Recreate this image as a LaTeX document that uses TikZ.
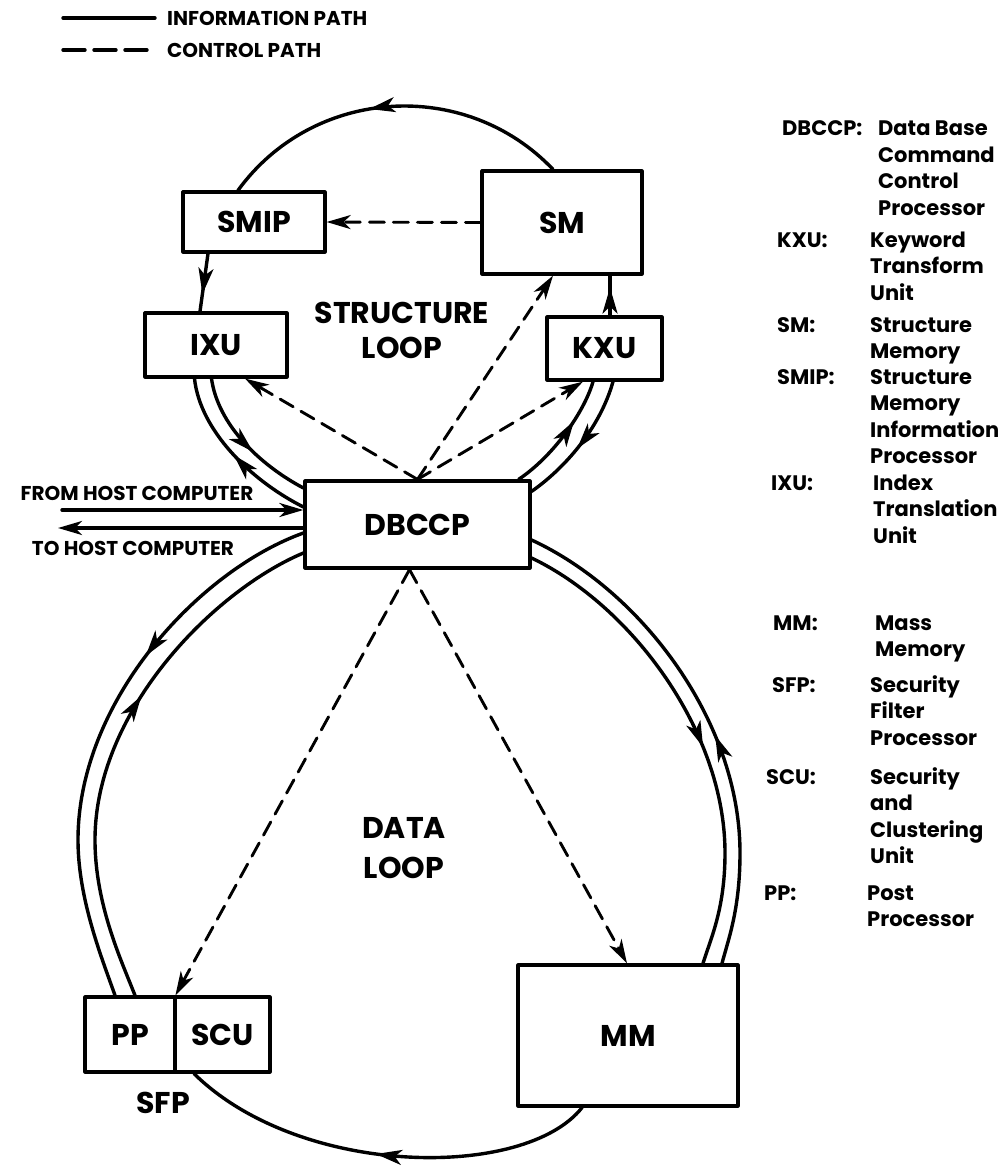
\documentclass[tikz,border=0pt]{standalone}
\usepackage{fontspec}
\setmainfont{Poppins}
\usetikzlibrary{arrows.meta,decorations.markings}

\tikzset{
  unitbox/.style={draw, line width=3.2pt, inner sep=0pt, font=\bfseries\fontsize{30}{35}\selectfont},
  info/.style={line width=3.4pt},
  ctrlline/.style={line width=2.9pt, dash pattern=on 15pt off 9pt},
  ctrl/.style={ctrlline, -{Stealth[length=24pt,width=14pt,inset=7pt]}},
  midarrow/.style={postaction={decorate}, decoration={markings,
      mark=at position #1 with {\arrow{Stealth[length=26pt,width=15pt,inset=7pt]}}}},
  looplabel/.style={font=\bfseries\fontsize{30}{35}\selectfont, align=center, inner sep=0pt},
  smalltext/.style={font=\bfseries\fontsize{20}{20}\selectfont, inner sep=0pt},
  legtext/.style={font=\bfseries\fontsize{21}{21}\selectfont, inner sep=0pt},
}

\begin{document}
\begin{tikzpicture}[x=1pt, y=-1pt, line cap=round, line join=round]
\useasboundingbox (0,0) rectangle (1004,1169);
% Path legend
\node[smalltext, anchor=west] (infolabel) at (167,18) {INFORMATION PATH};
\node[smalltext, anchor=west] (ctrllabel) at (167,50) {CONTROL PATH};
\draw[info] ([xshift=-12pt]infolabel.west) -- ++(-92,0);
\draw[ctrlline, line width=3.4pt, dash pattern=on 22pt off 9pt] ([xshift=-20pt]ctrllabel.west) -- ++(-84,0);

% Units
\node[unitbox, minimum width=142pt, minimum height=60pt] (smip) at (254,222) {SMIP};
\node[unitbox, minimum width=160pt, minimum height=103pt] (sm) at (562,222.5) {SM};
\node[unitbox, minimum width=142pt, minimum height=64pt] (ixu) at (216,345) {IXU};
\node[unitbox, minimum width=115pt, minimum height=63pt] (kxu) at (604.5,348.5) {KXU};
\node[unitbox, minimum width=225pt, minimum height=87pt] (dbccp) at (417.5,524.5) {DBCCP};
\node[unitbox, minimum width=90pt, minimum height=75pt] (pp) at (130,1034.5) {PP};
\node[unitbox, minimum width=95pt, minimum height=75pt] (scu) at (222.5,1034.5) {SCU};
\node[unitbox, minimum width=220pt, minimum height=141pt] (mm) at (628,1035.5) {MM};
\node[looplabel] (structlabel) at (402,330) {STRUCTURE\\LOOP};
\node[looplabel] (datalabel) at (404,848) {DATA\\[5pt]LOOP};
\node[looplabel] (sfplabel) at (163,1103) {SFP};

% Structure loop
\draw[info, midarrow=0.56] ([xshift=-9pt]sm.north) .. controls (465,77) and (313,87) .. ([xshift=-16pt]smip.north);
\draw[info, midarrow=0.7] ([xshift=-46pt]smip.south) -- ([xshift=-16pt]ixu.north);
\draw[info, midarrow=0.7] ([xshift=5.5pt]kxu.north) -- ([xshift=48pt]sm.south);
\draw[info, midarrow=0.58] ([xshift=-4.5pt]ixu.south) .. controls (218,425) and (260,465) .. ([yshift=36.5pt]dbccp.west);
\draw[info, midarrow=0.5] ([yshift=17.5pt]dbccp.west) .. controls (250,480) and (200,430) .. ([xshift=-21.5pt]ixu.south);
\draw[info, midarrow=0.65] ([xshift=-13pt]dbccp.north east) .. controls (555,455) and (585,410) .. ([xshift=-11.5pt]kxu.south);
\draw[info, midarrow=0.55] ([xshift=8.5pt]kxu.south) .. controls (600,428) and (565,468) .. ([yshift=-12pt]dbccp.north east);

% Data loop
\draw[info, midarrow=0.36] ([yshift=-8.5pt]dbccp.west) .. controls (200,570) and (78,700) .. (78,840)
  .. controls (78,900) and (103,961) .. ([xshift=-15pt]pp.north);
\draw[info, midarrow=0.59] ([xshift=5pt]pp.north) .. controls (122,962) and (95,905) .. (95,840)
  .. controls (95,710) and (215,590) .. ([yshift=-28.5pt]dbccp.west);
\draw[info, midarrow=0.54] ([yshift=-33.5pt]dbccp.east) .. controls (630,605) and (725,730) .. (725,853)
  .. controls (725,910) and (710,940) .. ([xshift=75pt]mm.north);
\draw[info, midarrow=0.46] ([xshift=94pt]mm.north) .. controls (728,940) and (740,910) .. (740,853)
  .. controls (740,720) and (640,590) .. ([yshift=-15.5pt]dbccp.east);
\draw[info, midarrow=0.52] ([xshift=-46pt]mm.south) .. controls (525,1180) and (300,1178) .. ([xshift=-28.5pt]scu.south);

% Control paths
\draw[ctrl] (sm.west) -- (smip.east);
\draw[ctrl] (dbccp.north) -- ([xshift=29pt]ixu.south);
\draw[ctrl] (dbccp.north) -- ([xshift=-9pt]sm.south);
\draw[ctrl] (dbccp.north) -- ([xshift=-21.5pt]kxu.south);
\draw[ctrl] ([xshift=-8pt]dbccp.south) -- ([xshift=2pt]scu.north west);
\draw[ctrl] ([xshift=-8pt]dbccp.south) -- ([xshift=-1pt]mm.north);

% Host computer
\coordinate (fromhost) at (62,510);
\coordinate (tohost) at (58,528);
\node[smalltext] (fromlabel) at (137,493) {FROM HOST COMPUTER};
\node[smalltext] (tolabel) at (133,548) {TO HOST COMPUTER};
\draw[info, -{Stealth[length=24pt,width=14pt,inset=7pt]}] (fromhost) -- ([yshift=14.5pt]dbccp.west);
\draw[info, -{Stealth[length=24pt,width=14pt,inset=7pt]}] ([yshift=-3.5pt]dbccp.west) -- (tohost);

% Abbreviations
\foreach \abbr/\lx/\dx/\yy/\lines in {
    DBCCP:/782/878/129/{Data Base,Command,Control,Processor},
    KXU:/777/870/240/{Keyword,Transform,Unit},
    SM:/777/870/325/{Structure,Memory},
    SMIP:/777/870/377/{Structure,Memory,Information,Processor},
    IXU:/771/873/483/{Index,Translation,Unit},
    MM:/773/875/623/{Mass,Memory},
    SFP:/772/870/685/{Security,Filter,Processor},
    SCU:/766/870/777/{Security,and,Clustering,Unit},
    PP:/764/867/893/{Post,Processor}} {
  \node[legtext, anchor=base west] (abbr-\yy) at (\lx,\yy+7) {\abbr};
  \foreach \ln [count=\k from 0] in \lines
    \node[legtext, anchor=base west] (desc-\yy-\k) at (\dx,\yy+7+26.5*\k) {\ln};
}
\end{tikzpicture}
\end{document}
